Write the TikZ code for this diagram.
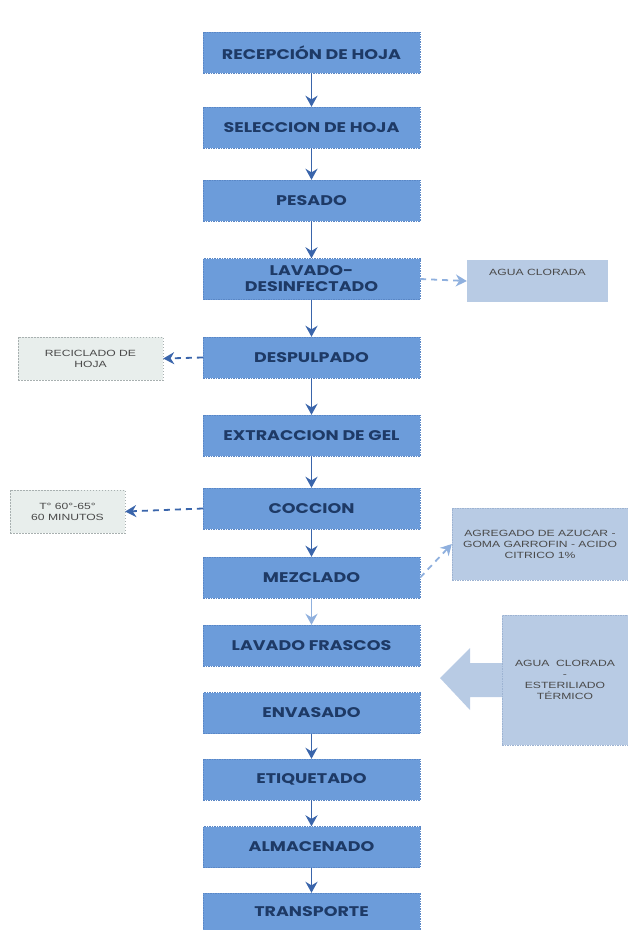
\documentclass[tikz,border=0pt]{standalone}
\usepackage{fontspec}
\usetikzlibrary{arrows.meta}
\newfontfamily\boxfont[FakeStretch=1.25]{Poppins}
\newfontfamily\sidefont[FakeStretch=1.35]{Liberation Sans}
\definecolor{mainfill}{HTML}{6C9CDA}
\definecolor{mainborder}{HTML}{5A87C6}
\definecolor{maintext}{HTML}{1E3A66}
\definecolor{arrowblue}{HTML}{3A65AB}
\definecolor{lightarrow}{HTML}{8FB0DE}
\definecolor{sideblue}{HTML}{B8CBE4}
\definecolor{sideborder}{HTML}{9DB3D2}
\definecolor{greyfill}{HTML}{E8EEEC}
\definecolor{greyborder}{HTML}{A8B0B0}
\definecolor{sidetext}{HTML}{4A4A4A}
\tikzset{
  mainbox/.style={draw=mainborder, dash pattern=on 1.5pt off 1pt, fill=mainfill,
    minimum width=217pt, minimum height=41pt, inner sep=0pt, align=center,
    text=maintext, font=\boxfont\bfseries\fontsize{14}{16}\selectfont},
  bluebox/.style={draw=sideborder, dash pattern=on 1.5pt off 1pt, fill=sideblue,
    inner sep=0pt, align=center, text=sidetext,
    font=\sidefont\fontsize{9}{11}\selectfont},
  greybox/.style={draw=greyborder, dash pattern=on 1.5pt off 1.5pt, fill=greyfill,
    inner sep=0pt, align=center, text=sidetext,
    font=\sidefont\fontsize{9}{11}\selectfont},
  flow/.style={draw=arrowblue, line width=1.8pt, -{Stealth[length=11pt,width=12pt]}},
  sidearrow/.style={draw=arrowblue, line width=1.8pt, dash pattern=on 6pt off 5pt,
    -{Stealth[length=11pt,width=12pt]}},
}
\begin{document}
\begin{tikzpicture}[x=1pt,y=-1pt]
\useasboundingbox (0,0) rectangle (628,930);
% main column
\node[mainbox] (n1) at (311.5,52.5) {RECEPCIÓN DE HOJA};
\node[mainbox] (n2) at (311.5,127.5) {SELECCION DE HOJA};
\node[mainbox] (n3) at (311.5,200.5) {PESADO};
\node[mainbox] (n4) at (311.5,279) {LAVADO-\\DESINFECTADO};
\node[mainbox] (n5) at (311.5,357.5) {DESPULPADO};
\node[mainbox] (n6) at (311.5,435.5) {EXTRACCION DE GEL};
\node[mainbox] (n7) at (311.5,508.5) {COCCION};
\node[mainbox] (n8) at (311.5,577.5) {MEZCLADO};
\node[mainbox] (n9) at (311.5,645.5) {LAVADO FRASCOS};
\node[mainbox] (n10) at (311.5,713) {ENVASADO};
\node[mainbox] (n11) at (311.5,779.5) {ETIQUETADO};
\node[mainbox] (n12) at (311.5,847) {ALMACENADO};
\node[mainbox, minimum height=37pt] (n13) at (311.5,911.5) {TRANSPORTE};
% side boxes
\node[bluebox, draw=none, minimum width=141pt, minimum height=42pt] (agua) at (537.5,281) {AGUA CLORADA\\[6pt]};
\node[greybox, minimum width=145pt, minimum height=43pt] (recic) at (90.5,358.5) {RECICLADO DE\\HOJA};
\node[greybox, minimum width=115pt, minimum height=43pt] (temp) at (67.5,511.5) {T° 60°-65°\\60 MINUTOS};
\node[bluebox, minimum width=176pt, minimum height=72pt] (agreg) at (540,544) {AGREGADO DE AZUCAR -\\GOMA GARROFIN - ACIDO\\CITRICO 1\%};
\node[bluebox, minimum width=126pt, minimum height=130pt] (ester) at (565,680) {AGUA\ \ CLORADA\\-\\ESTERILIADO\\TÉRMICO};
% big block arrow
\fill[sideblue] (ester.west |- 0,663) -- (470,663) -- (470,648) -- (440,678)
  -- (470,710) -- (470,697) -- (ester.west |- 0,697) -- cycle;
% flow arrows
\draw[flow] (n1) -- (n2);
\draw[flow] (n2) -- (n3);
\draw[flow] (n3) -- (n4);
\draw[flow] (n4) -- (n5);
\draw[flow] (n5) -- (n6);
\draw[flow] (n6) -- (n7);
\draw[flow] (n7) -- (n8);
\draw[flow, draw=lightarrow] (n8) -- (n9);
\draw[flow] (n10) -- (n11);
\draw[flow] (n11) -- (n12);
\draw[flow] (n12) -- (n13);
% side arrows
\draw[sidearrow, draw=lightarrow] (n4.east) -- (agua.west);
\draw[sidearrow] (n5.west) -- (recic.east);
\draw[sidearrow] (n7.west) -- (temp.east);
\draw[sidearrow, draw=lightarrow] (n8.east) -- (agreg.west);
\end{tikzpicture}
\end{document}
